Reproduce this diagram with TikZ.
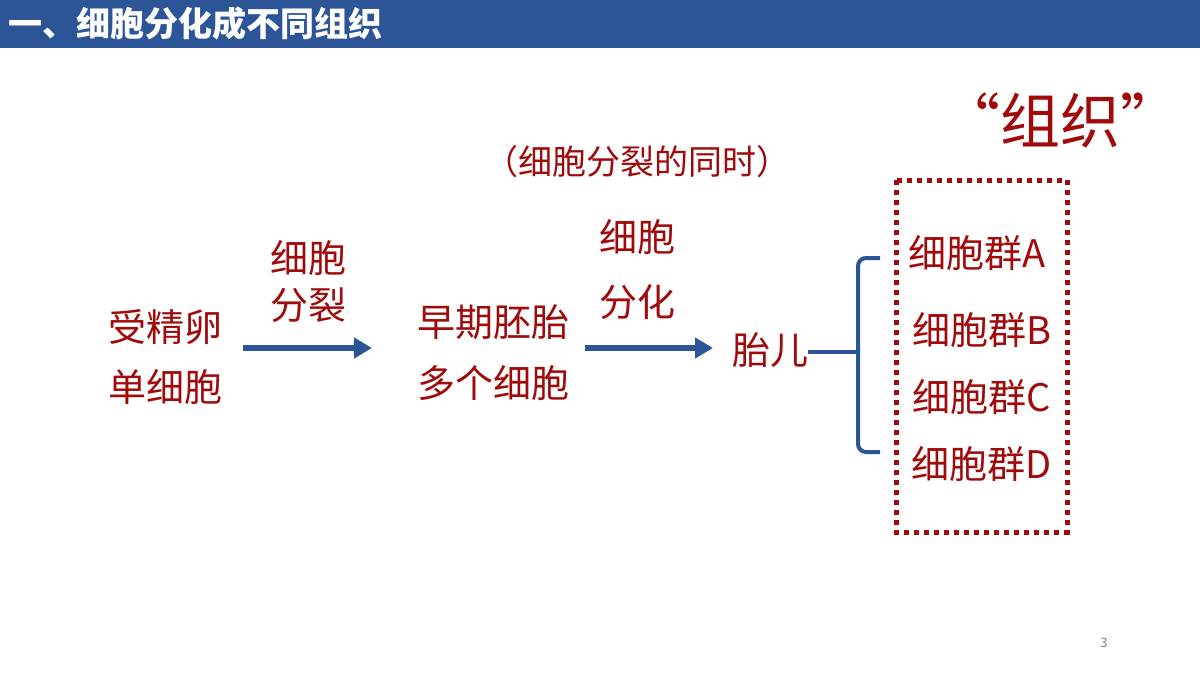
\documentclass[tikz,border=0pt]{standalone}
\usepackage{fontspec}
\setmainfont{Noto Sans CJK SC}
\usetikzlibrary{arrows.meta}
\definecolor{bblue}{RGB}{43,85,151}
\definecolor{dred}{RGB}{160,10,10}
\begin{document}
\begin{tikzpicture}[x=1pt,y=-1pt,
  txt/.style={text=dred,font=\fontsize{38}{40}\selectfont,inner sep=0pt},
  arr/.style={draw=bblue,line width=6pt,-{Triangle[length=18pt,width=20pt]}}]
\useasboundingbox (0,0) rectangle (1200,675);
\fill[bblue] (0,0) rectangle (1200,48);
\node[anchor=west,text=white,font=\fontsize{34}{36}\selectfont\bfseries,inner sep=0pt] (title) at (8,24) {一、细胞分化成不同组织};
\node[txt] (a1) at (165,327) {受精卵};
\node[txt] (a2) at (165,387) {单细胞};
\node[txt] (s1) at (308,258) {细胞};
\node[txt] (s2) at (308,305) {分裂};
\node[txt] (b1) at (493,322) {早期胚胎};
\node[txt] (b2) at (493,383) {多个细胞};
\node[txt] (d1) at (637,237) {细胞};
\node[txt] (d2) at (637,302) {分化};
\node[txt,font=\fontsize{34}{36}\selectfont] (note) at (637,162) {（细胞分裂的同时）};
\node[txt] (f) at (770,350) {胎儿};
\node[txt,font=\fontsize{60}{62}\selectfont] (tz) at (1060,120) {“组织”};
\node[txt] (gA) at (977,253) {细胞群A};
\node[txt] (gB) at (982,330) {细胞群B};
\node[txt] (gC) at (982,397) {细胞群C};
\node[txt] (gD) at (982,464) {细胞群D};
\node[text=gray,font=\fontsize{13}{14}\selectfont] (pg) at (1104,643) {3};
\coordinate (p1) at (243,348); \coordinate (p2) at (372,348);
\coordinate (q1) at (585,348); \coordinate (q2) at (713,348);
\coordinate (br) at (858,352);
\draw[arr] (p1) -- (p2);
\draw[arr] (q1) -- (q2);
\draw[bblue,line width=4pt] (f.east |- br) -- (br);
\draw[bblue,line width=4pt,rounded corners=8pt]
  (br) -- (858,258) -- (880,258);
\draw[bblue,line width=4pt,rounded corners=8pt]
  (858,350) -- (858,452) -- (880,452);
\draw[dred,line width=5pt,dash pattern=on 5pt off 5pt] (896,180) rectangle (1067,532);
\end{tikzpicture}
\end{document}
